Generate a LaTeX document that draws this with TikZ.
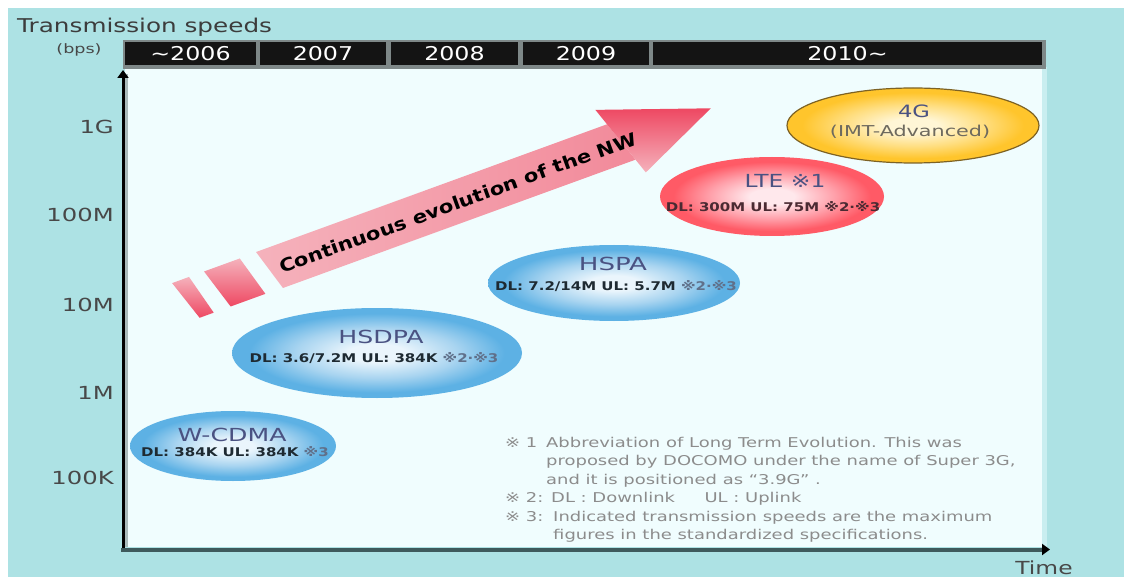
\documentclass[tikz,border=0pt]{standalone}
\usepackage{fontspec}
\setmainfont{DejaVu Sans}
\usepackage{graphicx}
\usetikzlibrary{shapes.geometric,arrows.meta}
\definecolor{bgcyan}{HTML}{ADE2E4}
\definecolor{plotbg}{HTML}{F0FDFE}
\definecolor{stripc}{HTML}{C9EEF0}
\definecolor{titlegray}{HTML}{3C3C3C}
\definecolor{labelgray}{HTML}{484848}
\definecolor{barblack}{HTML}{141414}
\definecolor{bargray}{HTML}{7E8888}
\definecolor{axisslate}{HTML}{3E5A5C}
\definecolor{axisshadow}{HTML}{A9BABA}
\definecolor{bluec}{HTML}{EAF5FC}
\definecolor{bluem}{HTML}{A8D4F0}
\definecolor{bluee}{HTML}{5DB1E4}
\definecolor{redc}{HTML}{FFE8EC}
\definecolor{redm}{HTML}{FFA0AA}
\definecolor{rede}{HTML}{FF5A66}
\definecolor{yelc}{HTML}{FFF6D6}
\definecolor{yelm}{HTML}{FFDE80}
\definecolor{yele}{HTML}{FFC52C}
\definecolor{yelline}{HTML}{7D6224}
\definecolor{navytext}{HTML}{4A5282}
\definecolor{subtext}{HTML}{1E2A32}
\definecolor{ltesub}{HTML}{4A2A32}
\definecolor{notemark}{HTML}{60708A}
\definecolor{notegray}{HTML}{8C8C8C}
\definecolor{imtgray}{HTML}{6E6A5E}
\definecolor{arrowlight}{HTML}{F5B2BC}
\definecolor{arrowmid}{HTML}{F28A9A}
\definecolor{arrowred}{HTML}{EE4862}
\pgfdeclareradialshading{blueell}{\pgfpoint{0bp}{0bp}}{color(0bp)=(bluec); color(5bp)=(bluec); color(14bp)=(bluem); color(22bp)=(bluee); color(25bp)=(bluee); color(50bp)=(bluee)}
\pgfdeclareradialshading{redell}{\pgfpoint{0bp}{0bp}}{color(0bp)=(redc); color(5bp)=(redc); color(14bp)=(redm); color(22bp)=(rede); color(25bp)=(rede); color(50bp)=(rede)}
\pgfdeclareradialshading{yelell}{\pgfpoint{0bp}{0bp}}{color(0bp)=(yelc); color(5bp)=(yelc); color(14bp)=(yelm); color(22bp)=(yele); color(25bp)=(yele); color(50bp)=(yele)}
\newcommand{\hs}[2]{\scalebox{#1}[1]{#2}}
\begin{document}
\begin{tikzpicture}[x=1pt,y=-1pt,
  blob/.style={ellipse, inner sep=0pt, draw=none},
  yearcell/.style={fill=barblack, inner sep=0pt, minimum height=23, text=white, font=\fontsize{19}{22}\selectfont},
  ylab/.style={anchor=east, text=labelgray, font=\fontsize{18}{20}\selectfont, inner sep=0pt},
  ename/.style={text=navytext, font=\fontsize{18}{20}\selectfont, inner sep=0pt},
  esub/.style={text=subtext, font=\bfseries\fontsize{12}{14}\selectfont, inner sep=0pt},
  notetext/.style={anchor=base west, text=notegray, font=\fontsize{13.5}{18.6}\selectfont, inner sep=0pt}]
\useasboundingbox (0,0) rectangle (1124,577);
\fill[white] (0,0) rectangle (1124,577);
\fill[bgcyan] (8,8) rectangle (1124,577);
\fill[stripc] (1041,67) rectangle (1047,547);
\fill[plotbg] (125,67) rectangle (1042,547);
% year bar
\fill[bargray] (123,40) rectangle (1046,69);
\node[yearcell, minimum width=131] (y2006) at (190.5,53.5) {\hs{1.25}{\textasciitilde 2006}};
\node[yearcell, minimum width=126] (y2007) at (323,53.5) {\hs{1.25}{2007}};
\node[yearcell, minimum width=127] (y2008) at (454.5,53.5) {\hs{1.25}{2008}};
\node[yearcell, minimum width=126] (y2009) at (586,53.5) {\hs{1.25}{2009}};
\node[yearcell, minimum width=389] (y2010) at (847.5,53.5) {\hs{1.25}{2010\textasciitilde}};
% title
\node[anchor=base west, text=titlegray, font=\fontsize{19}{22}\selectfont, inner sep=0pt] (title) at (17,33) {\hs{1.3}{Transmission speeds}};
\node[text=labelgray, font=\fontsize{13}{15}\selectfont, inner sep=0pt] (bps) at (79,50) {\hs{1.35}{(bps)}};
% y labels
\node[ylab] (l1g) at (114,127) {\hs{1.35}{1G}};
\node[ylab] (l100m) at (114,215) {\hs{1.35}{100M}};
\node[ylab] (l10m) at (114,305) {\hs{1.35}{10M}};
\node[ylab] (l1m) at (114,393) {\hs{1.35}{1M}};
\node[ylab] (l100k) at (114,478) {\hs{1.35}{100K}};
% axes
\coordinate (origin) at (123,550);
\coordinate (ytop) at (123,70);
\coordinate (xstart) at (121,549.5);
\coordinate (xend) at (1050,549.5);
\fill[axisshadow] (125,74) rectangle (128,547);
\draw[line width=3, -{Triangle[length=8pt,width=11pt]}] (origin) -- (ytop);
\draw[axisslate, line width=4, -{Triangle[length=8pt,width=11pt,color=black]}] (xstart) -- (xend);
\node[text=labelgray, font=\fontsize{18}{20}\selectfont, inner sep=0pt] (time) at (1044,568) {\hs{1.3}{Time}};
% evolution arrow
\begin{scope}[shift={(269.5,270)}, rotate=20]
  \shade[bottom color=arrowred, top color=arrowlight] (-96,-21) -- (-78,-21) -- (-67,21) -- (-82,21) -- cycle;
  \shade[bottom color=arrowred, top color=arrowlight] (-62,-21) -- (-24,-21) -- (-12,21) -- (-49,21) -- cycle;
  \shade[left color=arrowlight, right color=arrowmid] (-6.5,-21.5) -- (367,-21.5) -- (381.7,21.5) -- (6.5,21.5) -- cycle;
  \shade[top color=arrowred, bottom color=arrowlight] (361,-39) -- (470,-1) -- (387,37) -- cycle;
  \node[transform shape, text=black, font=\bfseries\fontsize{18}{20}\selectfont, inner sep=0pt] (evo) at (200,1) {\hs{1.17}{Continuous evolution of the NW}};
\end{scope}
% ellipses
\node[blob, shading=blueell, minimum width=206, minimum height=70] (wcdma) at (233,446) {};
\node[ename] (wcdmaname) at (232,435) {\hs{1.4}{W-CDMA}};
\node[esub] (wcdmasub) at (235,452) {\hs{1.25}{DL: 384K UL: 384K \textcolor{notemark}{※3}}};
\node[blob, shading=blueell, minimum width=290, minimum height=90] (hsdpa) at (377,353) {};
\node[ename] (hsdpaname) at (381,337) {\hs{1.4}{HSDPA}};
\node[esub] (hsdpasub) at (374,358) {\hs{1.25}{DL: 3.6/7.2M UL: 384K \textcolor{notemark}{※2·※3}}};
\node[blob, shading=blueell, minimum width=252, minimum height=76] (hspa) at (614,283) {};
\node[ename] (hspaname) at (613,264) {\hs{1.45}{HSPA}};
\node[esub] (hspasub) at (616,286) {\hs{1.25}{DL: 7.2/14M UL: 5.7M \textcolor{notemark}{※2·※3}}};
\node[blob, shading=redell, minimum width=224, minimum height=79] (lte) at (772,196.5) {};
\node[ename] (ltename) at (785,181) {\hs{1.3}{LTE ※1}};
\node[esub, text=ltesub] (ltesubt) at (773,207) {\hs{1.25}{DL: 300M UL: 75M ※2·※3}};
\node[blob, shading=yelell, draw=yelline, line width=1.2, minimum width=252, minimum height=75] (fourg) at (913,125.5) {};
\node[ename, font=\fontsize{17}{20}\selectfont] (fourgname) at (914,111) {\hs{1.33}{4G}};
\node[ename, text=imtgray, font=\fontsize{15}{18}\selectfont] (imt) at (910,132) {\hs{1.38}{(IMT-Advanced)}};
% notes
\node[notetext] (n1m) at (505,447) {\hs{1.33}{※ 1}};
\node[notetext] (n1) at (546,447) {\hs{1.33}{\begin{tabular}[t]{@{}l@{}}Abbreviation of Long Term Evolution. This was\\proposed by DOCOMO under the name of Super 3G,\\and it is positioned as “3.9G” .\end{tabular}}};
\node[notetext] (n2m) at (505,502) {\hs{1.33}{※ 2:}};
\node[notetext] (n2) at (551,502) {\hs{1.33}{DL : Downlink\quad\ \ UL : Uplink}};
\node[notetext] (n3m) at (505,521) {\hs{1.33}{※ 3:}};
\node[notetext] (n3) at (553,521) {\hs{1.33}{\begin{tabular}[t]{@{}l@{}}Indicated transmission speeds are the maximum\\figures in the standardized specifications.\end{tabular}}};
\end{tikzpicture}
\end{document}
